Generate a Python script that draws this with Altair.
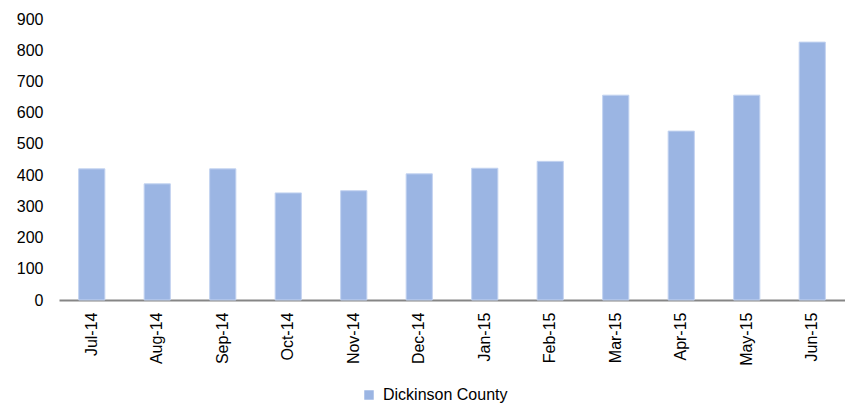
import altair as alt
import pandas as pd

months = ["Jul-14", "Aug-14", "Sep-14", "Oct-14", "Nov-14", "Dec-14",
          "Jan-15", "Feb-15", "Mar-15", "Apr-15", "May-15", "Jun-15"]
values = [420, 372, 420, 343, 350, 404, 422, 444, 656, 541, 656, 826]
series_name = "Dickinson County"
y_ticks = [0, 100, 200, 300, 400, 500, 600, 700, 800, 900]

df = pd.DataFrame({"Month": months, "Value": values, "Series": [series_name] * len(months)})

FONT = "Liberation Sans"

chart = alt.Chart(df).mark_bar(
    color="#9BB5E3", stroke="#C3D3F0", strokeWidth=1
).encode(
    x=alt.X("Month:N", sort=months, title=None,
            scale=alt.Scale(paddingInner=0.6, paddingOuter=0.3),
            axis=alt.Axis(labelAngle=-90, ticks=False, tickSize=0, labelPadding=12,
                          domainColor="#868686", domainWidth=2,
                          labelFont=FONT, labelFontSize=16, labelColor="#000000")),
    y=alt.Y("Value:Q", title=None,
            scale=alt.Scale(domain=[0, 900], nice=False),
            axis=alt.Axis(values=y_ticks, grid=False, domain=False, ticks=False, tickSize=0,
                          labelPadding=16, labelFont=FONT, labelFontSize=16,
                          labelColor="#000000")),
    fill=alt.Fill("Series:N", scale=alt.Scale(range=["#9BB5E3"]),
                  legend=alt.Legend(title=None, orient="none", legendX=302, legendY=368,
                                    symbolType="square", symbolSize=90, symbolStrokeWidth=0,
                                    labelFont=FONT, labelFontSize=16, labelColor="#000000",
                                    labelOffset=6)),
).properties(
    width=786, height=281,
    autosize=alt.AutoSizeParams(type="none"),
    padding={"left": 51, "top": 11, "right": 0, "bottom": 105},
).configure_view(stroke=None)

chart.save("out.html", embed_options={"renderer": "svg", "actions": False})
